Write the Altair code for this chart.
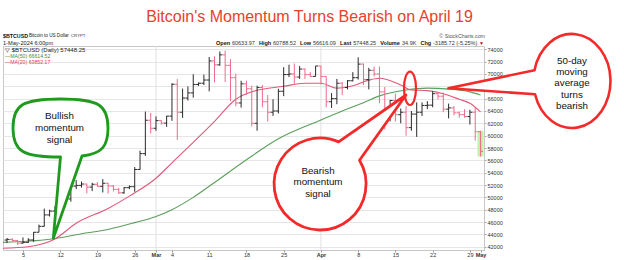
import altair as alt
import pandas as pd

# ---------------- data ----------------
first_day = "2024-02-02"
last_day = "2024-05-01"

opens = [
    # Feb 2 .. Feb 29
    43080, 43180, 43000, 42580, 42700, 43090, 44340, 45300, 47150, 47770, 48300, 49960, 49740, 51830,
    51940, 52160, 51660, 52120, 51780, 52280, 51840, 51300, 50730, 51570, 51730, 54520, 57090, 62500,
    # Mar
    61200, 62440, 62030, 63170, 68330, 63800, 66100, 66930, 68300, 68500, 69020, 72120, 71480, 73100, 71400, 69400,
    65300, 68400, 67600, 62000, 67800, 65500, 63800, 64000, 67200, 69900, 70000, 69500, 70800, 69900, 69600,
    # Apr
    71300, 69600, 65500, 66000, 68500, 67800, 68900, 69400, 71600, 69100, 70600, 70000, 67100, 63900, 65700,
    63400, 63800, 61300, 63500, 63800, 64900, 64950, 66800, 66400, 64300, 64500, 63700, 63400, 63100, 63800,
    # May 1
    60634,
]
highs = [
    43420, 43380, 43100, 43500, 43380, 44380, 45580, 48170, 48000, 48560, 50300, 50360, 52040, 52820,
    52570, 52200, 52360, 52470, 52950, 52370, 52000, 51530, 51680, 51940, 54910, 57560, 63900, 63680,
    63120, 62480, 63200, 68500, 69170, 67630, 67980, 69960, 68640, 69900, 72750, 72850, 73650, 73790, 72400, 70040,
    68900, 68900, 68100, 68100, 68200, 66600, 65900, 67600, 71100, 71500, 71700, 71300, 70900, 70300, 71300,
    71300, 69600, 66900, 69200, 68700, 69000, 70300, 72700, 71700, 71000, 71200, 71200, 67900, 65800, 66800,
    64400, 64800, 64000, 65400, 65400, 65600, 67200, 67000, 67000, 65200, 64800, 63900, 64300, 64200, 64600,
    60789,
]
lows = [
    42580, 42880, 42260, 42500, 42620, 42790, 44330, 45260, 46900, 47630, 47740, 48370, 49300, 51330,
    51590, 50650, 51010, 51720, 50790, 50620, 50970, 50540, 50590, 51330, 50900, 54450, 56720, 60360,
    60800, 61800, 61420, 62400, 59320, 62880, 65700, 66160, 68060, 68200, 67180, 68630, 71340, 68700, 65600, 64780,
    64540, 66600, 61500, 60800, 64600, 62300, 63200, 63600, 66400, 69500, 68400, 69200, 69200, 69500, 69600,
    68300, 64600, 64500, 65100, 66600, 67500, 68800, 69100, 68200, 67500, 69600, 65300, 61000, 62300, 62300,
    62000, 60000, 60800, 59800, 63200, 64300, 64600, 65900, 63800, 62800, 63300, 62900, 62900, 61800, 59200,
    56616,
]
closes = [
    43180, 43000, 42580, 42700, 43090, 44340, 45300, 47150, 47770, 48300, 49960, 49740, 51830, 51940,
    52160, 51660, 52120, 51780, 52280, 51840, 51300, 50730, 51570, 51730, 54520, 57090, 62500, 61200,
    62440, 62030, 63170, 68330, 63800, 66100, 66930, 68300, 68500, 69020, 72120, 71480, 73100, 71400, 69400, 65300,
    68400, 67600, 62000, 67800, 65500, 63800, 64000, 67200, 69900, 70000, 69500, 70800, 69900, 69600, 71300,
    69600, 65500, 66000, 68500, 67800, 68900, 69400, 71600, 69100, 70600, 70000, 67100, 63900, 65700, 63400,
    63800, 61300, 63500, 63800, 64900, 64950, 66800, 66400, 64300, 64500, 63700, 63400, 63100, 63800, 60634,
    57448,
]

ma20_dates = ["2024-02-01", "2024-02-06", "2024-02-11", "2024-02-15", "2024-02-21", "2024-02-25",
              "2024-03-01", "2024-03-04", "2024-03-08", "2024-03-12", "2024-03-16", "2024-03-19",
              "2024-03-25", "2024-03-29", "2024-04-01", "2024-04-04", "2024-04-07", "2024-04-10",
              "2024-04-12", "2024-04-16", "2024-04-18", "2024-04-21", "2024-04-24", "2024-04-27",
              "2024-04-29", "2024-05-01"]
ma20_values = [41750, 42000, 43250, 45800, 48200, 50200, 53100, 55600, 58900, 62300, 65900, 67100,
               68000, 68500, 68500, 67700, 68100, 69000, 69300, 68200, 67400, 67300, 66800, 65900,
               65250, 63850]

ma50_dates = ["2024-02-01", "2024-02-10", "2024-02-16", "2024-02-21", "2024-02-26", "2024-03-01",
              "2024-03-04", "2024-03-08", "2024-03-12", "2024-03-18", "2024-03-24", "2024-04-01",
              "2024-04-05", "2024-04-09", "2024-04-12", "2024-04-17", "2024-04-21", "2024-04-25",
              "2024-04-29", "2024-05-01"]
ma50_values = [42700, 43200, 44100, 44800, 45900, 46900, 48000, 50000, 52400, 56100, 59500, 62550,
               64000, 65350, 66450, 67400, 67700, 67550, 67100, 66600]

tick_dates = ["2024-02-05", "2024-02-12", "2024-02-19", "2024-02-26", "2024-03-01", "2024-03-04",
              "2024-03-11", "2024-03-18", "2024-03-25", "2024-04-01", "2024-04-08", "2024-04-15",
              "2024-04-22", "2024-04-29", "2024-05-01"]
tick_labels = ["5", "12", "19", "26", "Mar", "4", "11", "18", "25", "Apr", "8", "15", "22", "29", "May"]
month_labels = ["Mar", "Apr", "May"]
month_grid_dates = ["2024-03-01", "2024-04-01"]

y_ticks = list(range(42000, 74001, 2000))

# ---------------- frames ----------------
ORIGIN = pd.Timestamp("2024-02-01")


def day_of(d):
    return int((pd.Timestamp(d) - ORIGIN).days)


dates = pd.date_range(first_day, last_day, freq="D")
bars = pd.DataFrame({
    "day": [day_of(d) for d in dates],
    "open": opens, "high": highs, "low": lows, "close": closes,
})
bars["dir"] = ["up" if c >= o else "down" for o, c in zip(opens, closes)]
last_bar = bars.tail(1)

ma20_df = pd.DataFrame({"day": [day_of(d) for d in ma20_dates], "ma": ma20_values})
ma50_df = pd.DataFrame({"day": [day_of(d) for d in ma50_dates], "ma": ma50_values})
grid_df = pd.DataFrame({"day": [day_of(d) for d in month_grid_dates]})

tick_days = [day_of(d) for d in tick_dates]
bold_days = [day_of(d) for d, l in zip(tick_dates, tick_labels) if l in month_labels]

# ---------------- layout ----------------
PL, PT, PR, PB = 3, 46, 484, 250
W, H = PR - PL, PB - PT
FONT = "Liberation Sans"


def px(x):
    return x - PL


def py(y):
    return y - PT


label_expr = "[" + ",".join("'%s'" % l for l in tick_labels) + "][indexof([" + \
    ",".join(str(d) for d in tick_days) + "], datum.value)]"
bold_test = "indexof([" + ",".join(str(d) for d in bold_days) + "], datum.value) >= 0"

x_scale = alt.Scale(domain=[0.244, 90.65], nice=False, zero=False)
y_scale = alt.Scale(domain=[41465, 74535], nice=False, zero=False)

x_axis = alt.Axis(values=tick_days, labelExpr=label_expr, labelFont=FONT, labelFontSize=5.5,
                  labelColor="#333",
                  labelFontWeight={"condition": {"test": bold_test, "value": "bold"}, "value": "normal"},
                  grid=False, domain=False, tickSize=2, tickColor="#999", labelPadding=0.5,
                  labelFlush=False, labelOverlap=False, labelBound=False, title=None)
y_axis = alt.Axis(orient="right", values=y_ticks, format="d", labelFont=FONT, labelFontSize=5.5,
                  labelColor="#333", grid=True, gridColor="#e6e6e6", gridWidth=1, domain=False,
                  tickSize=2, tickColor="#aaa", labelPadding=1, labelFlush=False,
                  labelOverlap=False, labelBound=False, title=None)


def X():
    return alt.X("day:Q", scale=x_scale, axis=x_axis, title=None)


def Y(field):
    return alt.Y(field + ":Q", scale=y_scale, axis=y_axis, title=None)


color = alt.Color("dir:N", scale=alt.Scale(domain=["up", "down"], range=["#2a2a2a", "#ef6a8a"]),
                  legend=None)

base = alt.Chart(bars)

month_rules = alt.Chart(grid_df).mark_rule(color="#e0e0e0", strokeWidth=1).encode(x=X())

highlight = alt.Chart(last_bar).mark_rect(color="#bff2a8", xOffset=-3, x2Offset=3).encode(
    x=X(), x2="day:Q", y=Y("low"), y2="high:Q")

ma50_line = alt.Chart(ma50_df).mark_line(color="#5c9e5c", strokeWidth=1.1, interpolate="monotone",
                                         clip=True).encode(x=X(), y=Y("ma"))
ma20_line = alt.Chart(ma20_df).mark_line(color="#e2587a", strokeWidth=1.1, interpolate="monotone",
                                         clip=True).encode(x=X(), y=Y("ma"))

hl = base.mark_rule(strokeWidth=1).encode(x=X(), y=Y("low"), y2="high:Q", color=color)
op = base.mark_rule(strokeWidth=1, xOffset=-2.5, x2Offset=0).encode(
    x=X(), x2="day:Q", y=Y("open"), color=color)
cl = base.mark_rule(strokeWidth=1, xOffset=0, x2Offset=2.5).encode(
    x=X(), x2="day:Q", y=Y("close"), color=color)

ONE = alt.Data(values=[{"k": 0}])


def txt(text, x, y, size, color="#111", weight="normal", align="left", font=FONT,
        baseline="middle", line_height=None):
    kw = dict(align=align, baseline=baseline, fontSize=size, font=font, color=color,
              fontWeight=weight)
    if line_height:
        kw["lineHeight"] = line_height
    return alt.Chart(ONE).mark_text(**kw).encode(
        x=alt.value(px(x)), y=alt.value(py(y)), text=alt.value(text))


def shp(path, cx, cy, stroke, sw, fill="white"):
    return alt.Chart(ONE).mark_point(shape=path, size=4, filled=True, fill=fill, stroke=stroke,
                                     strokeWidth=sw, opacity=1, strokeJoin="round").encode(
        x=alt.value(px(cx)), y=alt.value(py(cy)))


def f(v):
    return "%.2f" % v


# green speech bubble (rounded blob with tail)
ga, gb, gk = 47.5, 29.0, 0.8
P0, P1, P2, P3 = (ga, 0.0), (ga, gk * gb), (gk * ga, gb), (0.0, gb)


def lerp(p, q, t):
    return (p[0] + (q[0] - p[0]) * t, p[1] + (q[1] - p[1]) * t)


def split_pt(t):
    q1 = lerp(P0, P1, t)
    m = lerp(P1, P2, t)
    q2 = lerp(q1, m, t)
    r = lerp(P2, P3, t)
    s = lerp(m, r, t)
    return q1, q2, lerp(q2, s, t)


lo, hi = 0.0, 1.0
for _ in range(40):
    mid = (lo + hi) / 2
    if split_pt(mid)[2][0] > 21.5:
        lo = mid
    else:
        hi = mid
Q1, Q2, PA = split_pt(lo)
g_tip = (-7.2, 110.3)
green_path = (
    f"M {f(PA[0])} {f(PA[1])} C {f(Q2[0])} {f(Q2[1])} {f(Q1[0])} {f(Q1[1])} {f(ga)} 0 "
    f"C {f(ga)} {f(-gk * gb)} {f(gk * ga)} {f(-gb)} 0 {f(-gb)} "
    f"C {f(-gk * ga)} {f(-gb)} {f(-ga)} {f(-gk * gb)} {f(-ga)} 0 "
    f"C {f(-ga)} {f(gk * gb)} {f(-gk * ga)} {f(gb)} 0 {f(gb)} "
    f"L {f(g_tip[0])} {f(g_tip[1])} Z"
)

red_path = "M 18.6 -42.1 L 86 -89 L 39.5 -23.7 A 46 46 0 1 1 18.6 -42.1 Z"
small_ellipse = "M 0 -16.7 A 6 16.7 0 1 1 0 16.7 A 6 16.7 0 1 1 0 -16.7 Z"
right_path = "M -37.5 -10.8 L -123.7 7.3 L -36.95 13.2 A 38.5 47 0 1 0 -37.5 -10.8 Z"

GREEN = "#1f9a1f"
RED = "#f22a2a"

# multi-line texts: y is the first line
annotations = [
    shp(green_path, 60.5, 128, GREEN, 2.8),
    shp(red_path, 320, 184, RED, 2.8),
    shp(small_ellipse, 410, 88.3, RED, 2.2, fill="transparent"),
    shp(right_path, 572, 81, RED, 2.6),
    txt(["Bullish", "momentum", "signal"], 59.5, 115.5, 9.8, color="#111", align="center",
        line_height=12),
    txt(["Bearish", "momentum", "signal"], 318, 170.5, 9.8, color="#111", align="center",
        line_height=11.6),
    txt(["50-day", "moving", "average", "turns", "bearish"], 572, 60.5, 9.8, color="#111",
        align="center", line_height=11.4),
]

header = [
    txt("Bitcoin's Momentum Turns Bearish on April 19", 309.5, 17, 16, color="#e8402f",
        align="center", font="Liberation Sans Narrow, Arial Narrow, Liberation Sans"),
    txt("$BTCUSD", 3, 36, 5.3, weight="bold"),
    txt("Bitcoin to US Dollar", 29, 36.2, 4.6, color="#222"),
    txt("CRYPT", 71, 36.4, 4.3, color="#333"),
    txt("1-May-2024 6:00pm", 3, 42.6, 5.6, color="#222"),
    txt("\u00a9 StockCharts.com", 485, 36, 5.3, color="#555", align="right"),
    txt("\u25bd $BTCUSD (Daily) 57448.25", 5, 50, 6, color="#222"),
    txt("\u2014MA(50) 66614.52", 5, 55.7, 5.2, color="#3f8a3f"),
    txt("\u2014MA(20) 63852.17", 5, 61.5, 5.2, color="#e03a5a"),
]
info = [("Open", 216.0, True), ("60633.97", 231.9, False), ("High", 259.0, True),
        ("60788.52", 273.0, False), ("Low", 300.1, True), ("56616.09", 312.9, False),
        ("Last", 340.1, True), ("57448.25", 353.2, False), ("Volume", 380.3, True),
        ("34.9K", 402.0, False), ("Chg", 420.5, True), ("-3185.72 (-5.25%)", 433.0, False)]
for s, x, b in info:
    header.append(txt(s, x, 42.8, 5.5, color="#111" if b else "#333",
                      weight="bold" if b else "normal"))
header.append(txt("\u25bc", 481.5, 42.8, 5, color="#b0102a", align="center"))

chart = alt.layer(
    month_rules, highlight, ma50_line, ma20_line, hl, op, cl, *annotations, *header
).properties(
    width=W, height=H,
    autosize=alt.AutoSizeParams(type="none"),
    padding={"left": PL, "top": PT, "right": 624 - PR, "bottom": 260 - PB},
    background="white",
).configure_view(stroke="#c8c8c8", strokeWidth=1)

chart.save("out.html", embed_options={"renderer": "svg", "actions": False})
